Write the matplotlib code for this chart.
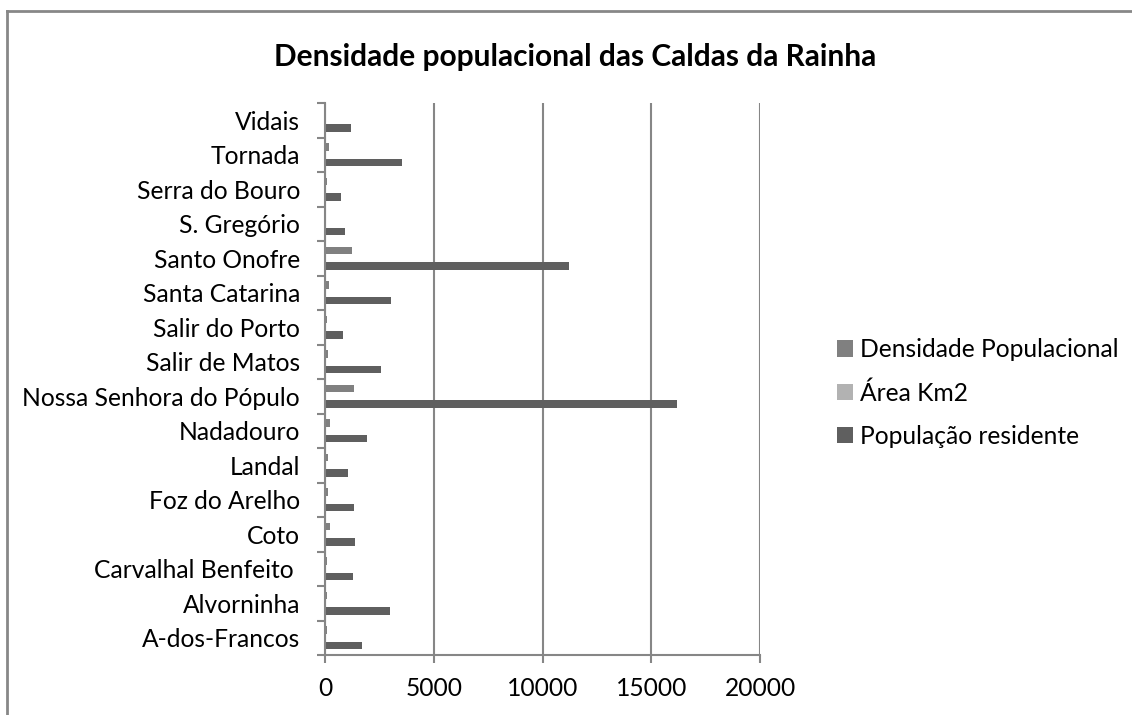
import matplotlib
matplotlib.use("Agg")
import matplotlib.pyplot as plt
import numpy as np
from matplotlib.lines import Line2D

plt.rcParams['font.family'] = ['Lato', 'DejaVu Sans']

categories = ["A-dos-Francos", "Alvorninha", "Carvalhal Benfeito ", "Coto", "Foz do Arelho",
              "Landal", "Nadadouro", "Nossa Senhora do Pópulo", "Salir de Matos",
              "Salir do Porto", "Santa Catarina", "Santo Onofre", "S. Gregório",
              "Serra do Bouro", "Tornada", "Vidais"]
populacao = [1700, 2990, 1287, 1364, 1333, 1073, 1916, 16184, 2590, 813, 3034, 11218, 905, 720, 3540, 1180]
area = [21.6, 57.5, 11.4, 6.7, 10.1, 16.7, 8.1, 12.1, 23.1, 10.6, 20.6, 9.2, 16.0, 10.0, 18.3, 17.0]
densidade = [92, 92, 107, 245, 153, 120, 215, 1333, 120, 100, 170, 1225, 50, 80, 200, 60]
xticks = [0, 5000, 10000, 15000, 20000]

W, H = 1132, 715
fig = plt.figure(figsize=(W/100, H/100), dpi=100)
fx = 7/W
fy = (H-11)/H
fig.lines.append(Line2D([fx, fx], [0, fy], transform=fig.transFigure, color='#878787', linewidth=2))
fig.lines.append(Line2D([fx, 1], [fy, fy], transform=fig.transFigure, color='#878787', linewidth=2))

ax = fig.add_axes([325/W, (H-655)/H, 435/W, (655-103)/H])
y = np.arange(len(categories))
h = 0.667/3
ax.barh(y - h, populacao, height=h, color='#5f5f5f', label='População residente')
ax.barh(y, area, height=h, color='#b2b2b2', label='Área Km2')
ax.barh(y + h, densidade, height=h, color='#808080', label='Densidade Populacional')

ax.set_xlim(0, 20000)
ax.set_ylim(-0.5, len(categories) - 0.5)
ax.set_xticks(xticks)
ax.set_xticklabels([str(t) for t in xticks])
ax.set_yticks(np.arange(len(categories) + 1) - 0.5, minor=True)
ax.set_yticks(y)
ax.set_yticklabels(categories)
ax.tick_params(axis='y', which='major', length=0, pad=18, labelsize=17.7)
ax.tick_params(axis='y', which='minor', length=6, color='#868686', width=1.5)
ax.tick_params(axis='x', length=6, color='#868686', width=1.5, labelsize=17.7, pad=10)
for s in ['top', 'right']:
    ax.spines[s].set_visible(False)
for s in ['left', 'bottom']:
    ax.spines[s].set_color('#868686')
    ax.spines[s].set_linewidth(1.5)
ax.grid(axis='x', color='#868686', linewidth=1.5)
ax.set_axisbelow(True)

handles, labels = ax.get_legend_handles_labels()
leg = fig.legend(handles[::-1], labels[::-1], loc='center left',
                 bbox_to_anchor=(815/W, (H-393)/H), frameon=False, fontsize=17.7,
                 handlelength=0.65, handleheight=0.65, handletextpad=0.3,
                 labelspacing=0.82)

fig.text(575/W, (H-57)/H, "Densidade populacional das Caldas da Rainha",
         ha='center', va='center', fontsize=21.5, fontweight='bold')

fig.savefig("out.png", dpi=100)
